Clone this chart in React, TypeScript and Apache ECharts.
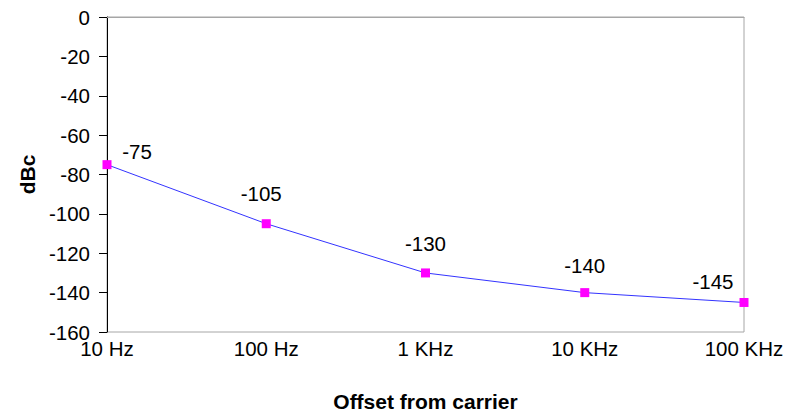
import React, { useEffect, useRef } from "react";
import * as echarts from "echarts";

const categories = ["10 Hz", "100 Hz", "1 KHz", "10 KHz", "100 KHz"];
const values = [-75, -105, -130, -140, -145];
const labelOffsets: [number, number][] = [
  [30, 16],
  [-5, -1],
  [0, 0],
  [0, 2],
  [-31, 8],
];

export default function App() {
  const ref = useRef<HTMLDivElement>(null);
  useEffect(() => {
    if (!ref.current) return;
    const chart = echarts.init(ref.current, undefined, { renderer: "svg" });
    const font = "Liberation Sans, Arial, sans-serif";
    chart.setOption({
      animation: false,
      grid: {
        left: 107,
        right: 42,
        top: 17,
        bottom: 81,
        outerBoundsMode: "none",
        containLabel: false,
        show: true,
        borderColor: "#a6a6a6",
        borderWidth: 1,
        backgroundColor: "#fff",
      },
      xAxis: {
        type: "category",
        data: categories,
        boundaryGap: false,
        name: "Offset from carrier",
        nameLocation: "middle",
        nameGap: 59,
        nameTextStyle: { fontFamily: font, fontSize: 21, fontWeight: "bold", color: "#000" },
        axisLine: { lineStyle: { color: "#a6a6a6", width: 1 } },
        axisTick: { show: false },
        axisLabel: { fontFamily: font, fontSize: 20.5, color: "#000", margin: 6 },
        splitLine: { show: false },
      },
      yAxis: {
        type: "value",
        min: -160,
        max: 0,
        interval: 20,
        name: "dBc",
        nameLocation: "middle",
        nameGap: 64,
        nameTextStyle: { fontFamily: font, fontSize: 21, fontWeight: "bold", color: "#000" },
        axisLine: { show: true, lineStyle: { color: "#000", width: 1 } },
        axisTick: { show: true, length: 8, lineStyle: { color: "#000" } },
        axisLabel: { fontFamily: font, fontSize: 20.5, color: "#000", margin: 17 },
        splitLine: { show: false },
      },
      series: [
        {
          type: "line",
          data: values.map((v, i) => ({
            value: v,
            label: { offset: labelOffsets[i] },
          })),
          symbol: "rect",
          symbolSize: 9,
          itemStyle: { color: "#ff00ff" },
          lineStyle: { color: "#3333ff", width: 1 },
          label: {
            show: true,
            position: "top",
            distance: 14,
            fontFamily: font,
            fontSize: 20.5,
            color: "#000",
          },
        },
      ],
    });
    return () => chart.dispose();
  }, []);
  return <div ref={ref} style={{ width: 786, height: 413, position: "absolute", left: 0, top: 0 }} />;
}
